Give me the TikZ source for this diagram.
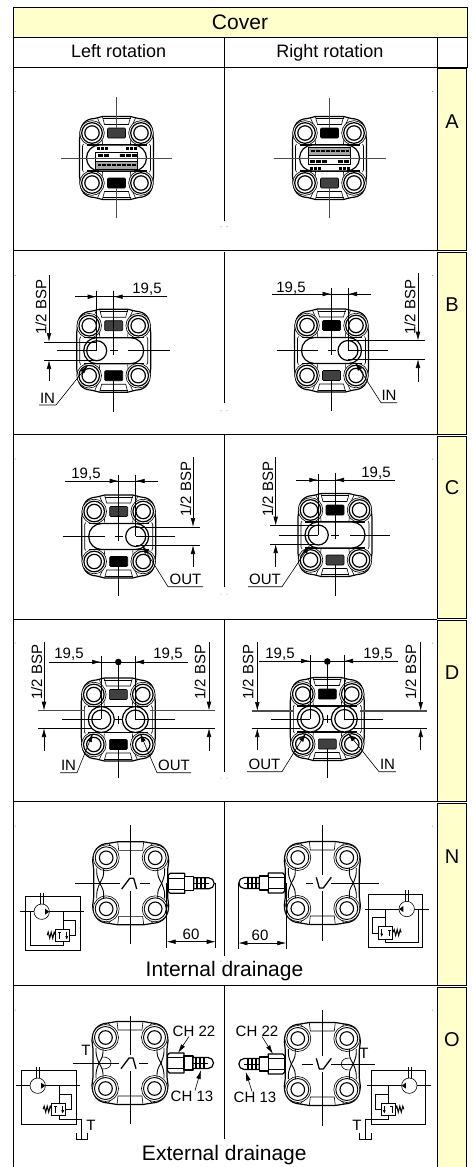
\documentclass[tikz,border=0pt]{standalone}
\usepackage{fontspec}
\setmainfont{Liberation Sans}
\usetikzlibrary{arrows.meta}
\definecolor{cellyellow}{HTML}{FFFFCC}
\tikzstyle{gridline} = [draw=black, line width=0.9pt]
\tikzstyle{bodyline} = [draw=black, line width=1.2pt, line join=round]
\tikzstyle{thinline} = [draw=black, line width=0.6pt]
\tikzstyle{dimline} = [draw=black, line width=0.6pt]
\tikzstyle{axisline} = [draw=black!70, line width=0.7pt]
\tikzset{tipped/.style={-{Latex[length=9pt,width=4.6pt]}},
    pointer/.style={dimline, -{Latex[length=9pt,width=4.6pt]}},
    dimtext/.style={font=\fontsize{15}{15}\selectfont, inner sep=0pt},
    headtext/.style={font=\fontsize{21}{21}\selectfont, inner sep=0pt},
    coltext/.style={font=\fontsize{18}{18}\selectfont, inner sep=0pt, anchor=base},
    tagtext/.style={font=\fontsize{20}{20}\selectfont, inner sep=0pt}}
% front of the cover, small scale: #1 top pad, #2 bottom pad
\newcommand\coverbody[2]{%
    \foreach \sx/\sy in {1/1,-1/1,1/-1,-1/-1}{
      \begin{scope}[xscale=\sx,yscale=\sy]
        \draw[bodyline] (0,-41.5) -- (14,-41.5) -- (22,-39.5) .. controls (32,-39) and (36.5,-33) .. (36.5,-22) -- (37,-18) -- (37,0);
        \draw[thinline] (0,-39.5) -- (14,-39.5);
        \draw[thinline] (14,-41) -- (12,-33.5) -- (0,-33.5);
        \draw[thinline] (19,-40) -- (15.5,-32) -- (14,-14);
        \draw[thinline] (33,-14) -- (34,-12) -- (34,0);
        \draw[thinline,fill=white] (24.5,-25) circle (12.3);
        \draw[bodyline,fill=white] (24.5,-25) circle (10.3);
        \draw[bodyline] (24.5,-25) circle (7.2);
        \draw[bodyline] (0,-13) -- (30,-13);
      \end{scope}}
    \draw[thinline,fill=#1,rounded corners=1pt] (-9,-30) rectangle (9,-20);
    \draw[thinline,fill=#2,rounded corners=1pt] (-9,20) rectangle (9,30);
}
% oblong recess of the cover
\newcommand\coverslot{\draw[bodyline,fill=white] (-17,-13) -- (17,-13) arc (-90:90:13) -- (-17,13) arc (90:270:13) -- cycle;}
% plate on the recess
\newcommand\logoplate{%
    \draw[thinline,fill=black!35] (-21,-11) rectangle (21,-3);
    \draw[line width=2.2pt,dash pattern=on 4pt off 1pt] (-19,-7) -- (19,-7);
    \draw[thinline] (-21,-3) rectangle (21,6);
    \draw[line width=3pt,dash pattern=on 5pt off 1pt] (-20,3) -- (-2,3) (8,3) -- (20,3);
    \draw[line width=3pt,dash pattern=on 3pt off 1pt] (-20,10) -- (-9,10) (9,10) -- (20,10);
}
% rear of the cover, large scale
\newcommand\coverlarge{%
    \foreach \sx/\sy in {1/1,-1/1,1/-1,-1/-1}{
      \begin{scope}[xscale=\sx,yscale=\sy]
        \draw[bodyline] (0,-41.5) -- (13,-41.5) -- (22,-40) .. controls (33,-39.5) and (38,-32) .. (38,-22) -- (37,-14) -- (37,0);
        \draw[thinline] (13,-41.5) -- (12,-33) -- (0,-33);
        \draw[thinline] (22,-40) -- (15.5,-32) -- (13,-23);
        \draw[thinline,fill=white] (24.5,-25.5) circle (13);
        \draw[draw=black,line width=0.9pt,fill=white] (24.5,-25.5) circle (11);
        \draw[draw=black,line width=1.1pt] (24.5,-25.5) circle (6.8);
        \draw[draw=black,line width=0.9pt] (34,-15) .. controls (34,-8) .. (31,0);
        \draw[draw=black,line width=0.9pt] (27,-15) .. controls (27,-7) .. (31,0);
      \end{scope}}
}
% hose fitting, pointing right
\newcommand\covernipple{%
    \draw[bodyline,fill=white] (37.5,-8) -- (39.5,-10) -- (54,-10) -- (54,10) -- (39.5,10) -- (37.5,8) -- cycle;
    \draw[thinline] (38,-5.5) -- (54,-5.5) (38,5.5) -- (54,5.5);
    \draw[bodyline,fill=white] (54,-7) rectangle (63,7);
    \draw[bodyline,fill=white] (63,-5.5) -- (78,-5.5) arc (-90:90:5.5) -- (63,5.5) -- cycle;
    \draw[line width=1.7pt] (66,-5.5) -- (66,5.5) (70,-5.5) -- (70,5.5) (74,-5.5) -- (74,5.5);
    \draw[thinline] (63,0) -- (78,0);
}
% rotation mark
\newcommand\rotmark{\draw[line width=1.3pt,line join=round] (-9,5.7) -- (-1,-5) -- (3,-5) -- (6,5.7);}
% hydraulic scheme, origin in the motor circle
\newcommand\circuitbase{%
    \draw[dimline] (-16,-15) rectangle (38.5,38.3);
    \draw[dimline] (-22,0) -- (42,0);
    \draw[dimline] (-1.5,-19) -- (-1.5,-7.5) (1.5,-19) -- (1.5,-7.5);
    \draw[dimline,fill=white] (0,0) circle (7.7);
    \fill (7.6,0) -- (3.4,-3) -- (3.4,3) -- cycle;
    \draw[dimline,fill=white] (14,17.3) rectangle (28,30);
    \draw[dimline] (21.5,0) -- (21.5,17.3);
    \draw[dimline] (21.5,8.5) -- (34,8.5) -- (34,24) -- (28,24);
    \draw[dimline,-{Latex[length=3.5pt,width=3pt]}] (25,20) -- (25,28);
    \draw[line width=1pt] (14,23.5) -- (12.5,20.5) -- (11,26.5) -- (9.5,20.5) -- (8,26.5) -- (6.5,20.5) -- (5.5,23.5);
    \draw[dimline] (17.5,21) -- (17.5,27) (16,21) -- (19,21);
}
\newcommand\circuitinternal{\circuitbase
    \draw[dimline] (-11.7,0) -- (-11.7,33.3) -- (21.5,33.3) -- (21.5,30);}
\newcommand\circuitexternal{\circuitbase
    \draw[dimline] (21.5,30) -- (21.5,33.3) -- (44,33.3) -- (44,53);
    \draw[dimline] (38.3,47.5) -- (38.3,53.3) -- (49.7,53.3) -- (49.7,47.5);}
% horizontal measure: y, start, first line, second line, end, foot of lines
\newcommand\hdim[6]{%
    \draw[dimline] (#2,#1) -- (#5,#1);
    \draw[dimline,tipped] (#2,#1) -- (#3,#1);
    \draw[dimline,tipped] (#5,#1) -- (#4,#1);
    \draw[dimline] (#3,#1-6) -- (#3,#6) (#4,#1-6) -- (#4,#6);
}
% length of the fitting: y, first line, second line, head of lines
\newcommand\lendim[4]{%
    \draw[dimline,{Latex[length=9pt,width=4.6pt]}-{Latex[length=9pt,width=4.6pt]}] (#2,#1) -- (#3,#1);
    \draw[dimline] (#2,#4) -- (#2,#1+6) (#3,#4) -- (#3,#1+6);
}
% vertical measure: x, start, first line, second line, end
\newcommand\vdim[5]{%
    \draw[dimline,tipped] (#1,#2) -- (#1,#3);
    \draw[dimline,tipped] (#1,#5) -- (#1,#4);
}
% port label on a leader: far end, elbow, y, port x, port y, name, text
\newcommand\portlabel[7]{%
    \draw[pointer] (#1,#3) -- node[dimtext,above=1.5pt] (#6) {#7} (#2,#3) -- (#4,#5);
}
\begin{document}
\begin{tikzpicture}[x=1pt,y=-1pt]
    \useasboundingbox (0,0) rectangle (472,1167);
    % table
    \fill[white] (0,0) rectangle (472,1167);
    \draw[gridline,fill=cellyellow] (13.5,7.5) rectangle (467,37);
    \node[headtext] (title) at (240,22) {Cover};
    \draw[gridline] (12.5,37) -- (467,37) -- (467,67) -- (12.5,67);
    \draw[gridline] (437,37) -- (437,67) (224.5,37) -- (224.5,67);
    \node[coltext] (leftcol) at (118.7,57.3) {Left rotation};
    \node[coltext] (rightcol) at (330,57.3) {Right rotation};
    \draw[gridline] (13.5,7.5) -- (13.5,1167);
    \foreach \tag/\ytop/\ybot/\ylab/\yend in {A/68.5/250/122/221,B/252.5/434/305/403,C/436/618.5/488/587,D/620/801/673/772,N/803/985/857/956,O/987/1170/1040/1139}{
      \draw[gridline,fill=cellyellow] (437.5,\ytop) rectangle (466.5,\ybot);
      \node[tagtext] (tag\tag) at (452,\ylab) {\tag};
      \draw[gridline] (13.5,\ybot+0.5) -- (437,\ybot+0.5);
      \draw[gridline] (224.5,\ytop-1) -- (224.5,\yend);
      \fill[black!50] (15.3,\ytop+23) circle (0.5) (432.5,\ytop+23) circle (0.5);
      \fill[black!50] (221,\ytop+158) circle (0.5) (227,\ytop+158) circle (0.5);
    }
    % row A
    \begin{scope}[shift={(116.5,158)}]
      \coverbody{black!75}{black}
      \coverslot
      \begin{scope}[rotate=180] \logoplate \end{scope}
      \draw[axisline] (0,-61) -- (0,-30) (0,30) -- (0,60) (-55.5,0) -- (55.5,0);
    \end{scope}
    \begin{scope}[shift={(329.5,158)}]
      \coverbody{black}{black!75}
      \coverslot
      \logoplate
      \draw[axisline] (0,-60) -- (0,-30) (0,30) -- (0,60) (-56,0) -- (56,0);
    \end{scope}
    % row B
    \begin{scope}[shift={(113.7,350.7)}]
      \coverbody{black!75}{black}
      \coverslot
      \draw[bodyline,fill=white] (-17,0) circle (10);
      \draw[dimline] (0,-60) -- (0,-30) (0,30) -- (0,61) (-4,0) -- (4,0) (0,-4) -- (0,4) (-56.7,0) -- (-17,0) (14,0) -- (56.3,0);
    \end{scope}
    \hdim{296.7}{75}{96.7}{113.7}{167}{350}
    \node[dimtext] (pitchBL) at (147,289) {19,5};
    \vdim{49}{275}{342}{360}{381}
    \draw[dimline] (44,342) -- (97,342) (44,360) -- (97,360);
    \node[dimtext,rotate=90] (bspBL) at (41,307) {1/2 BSP};
    \portlabel{39}{56}{405}{88}{365}{inBL}{IN}
    \begin{scope}[shift={(331.5,350.5)}]
      \coverbody{black}{black!75}
      \coverslot
      \draw[bodyline,fill=white] (16.5,0) circle (10);
      \draw[dimline] (0,-60) -- (0,-30) (0,30) -- (0,60) (-4,0) -- (4,0) (0,-4) -- (0,4) (-55,0) -- (-14,0) (16.5,0) -- (56.5,0);
    \end{scope}
    \hdim{294}{272}{331.5}{348}{370.7}{350}
    \node[dimtext] (pitchBR) at (291,288) {19,5};
    \vdim{418}{273}{340.7}{359}{381.7}
    \draw[dimline] (348,340.7) -- (425,340.7) (348,359) -- (425,359);
    \node[dimtext,rotate=90] (bspBR) at (410,307) {1/2 BSP};
    \portlabel{397}{381}{402.7}{355}{362}{inBR}{IN}
    % row C
    \begin{scope}[shift={(118.7,536.5)}]
      \coverbody{black!75}{black}
      \coverslot
      \draw[bodyline,fill=white] (17,0) circle (10);
      \draw[dimline] (0,-61) -- (0,-30) (0,30) -- (0,59) (-4,0) -- (4,0) (0,-4) -- (0,4) (-55.7,0) -- (-14,0) (17,0) -- (56.3,0);
    \end{scope}
    \hdim{481}{65}{118.7}{135.7}{158}{536}
    \node[dimtext] (pitchCL) at (86,474) {19,5};
    \vdim{193}{457}{527}{545}{567}
    \draw[dimline] (136,527) -- (200,527) (136,545) -- (200,545);
    \node[dimtext,rotate=90] (bspCL) at (185.7,489) {1/2 BSP};
    \portlabel{203}{168}{586.7}{142}{545}{outCL}{OUT}
    \begin{scope}[shift={(335,535)}]
      \coverbody{black}{black!75}
      \coverslot
      \draw[bodyline,fill=white] (-16.7,0) circle (10);
      \draw[dimline] (0,-62) -- (0,-30) (0,30) -- (0,60.5) (-4,0) -- (4,0) (0,-4) -- (0,4) (-56,0) -- (-16.7,0) (15,0) -- (55,0);
    \end{scope}
    \hdim{480}{296}{318.3}{335}{395}{535}
    \node[dimtext] (pitchCR) at (376,473) {19,5};
    \vdim{275.7}{457}{525.7}{544}{567}
    \draw[dimline] (270,525.7) -- (318,525.7) (270,544) -- (318,544);
    \node[dimtext,rotate=90] (bspCR) at (267.7,489) {1/2 BSP};
    \portlabel{248}{282}{586.7}{310}{545}{outCR}{OUT}
    % row D
    \begin{scope}[shift={(118.3,719.5)}]
      \coverbody{black!75}{black}
      \foreach \px in {-17,17}{
        \draw[bodyline,fill=white] (\px,0) circle (13);
        \draw[bodyline] (\px,0) circle (9.5);}
      \draw[dimline] (0,-60) -- (0,-30) (0,30) -- (0,58) (-4,0) -- (4,0) (0,-4) -- (0,4) (-56,0) -- (-17,0) (17,0) -- (57,0);
    \end{scope}
    \hdim{662}{49}{101}{135}{188}{719}
    \fill (118.3,662) circle (3.3);
    \node[dimtext] (pitchDLa) at (69,654) {19,5};
    \node[dimtext] (pitchDLb) at (168,654) {19,5};
    \vdim{44}{642}{710.7}{728}{751}
    \vdim{209}{642}{710.7}{728}{751}
    \draw[axisline,line width=1.1pt] (38,710.7) -- (85,710.7) (150,710.7) -- (215,710.7);
    \draw[dimline] (38,728) -- (92,728) (144,728) -- (215,728);
    \node[dimtext,rotate=90] (bspDLa) at (36.7,672) {1/2 BSP};
    \node[dimtext,rotate=90] (bspDLb) at (200,672) {1/2 BSP};
    \portlabel{60}{77}{772.7}{93}{733}{inDL}{IN}
    \portlabel{191}{157}{772.7}{140}{733}{outDL}{OUT}
    \begin{scope}[shift={(327.3,719)}]
      \coverbody{black}{black!75}
      \foreach \px in {-17,17}{
        \draw[bodyline,fill=white] (\px,0) circle (13);
        \draw[bodyline] (\px,0) circle (9.5);}
      \draw[dimline] (0,-60) -- (0,-30) (0,30) -- (0,59) (-4,0) -- (4,0) (0,-4) -- (0,4) (-56,0) -- (-17,0) (17,0) -- (56,0);
    \end{scope}
    \hdim{661}{259.3}{310}{344}{398}{719}
    \fill (327.3,661.5) circle (3.3);
    \node[dimtext] (pitchDRa) at (280,654) {19,5};
    \node[dimtext] (pitchDRb) at (378,654) {19,5};
    \vdim{257.3}{642}{711}{728}{750}
    \vdim{420.7}{642}{711}{728}{750}
    \draw[axisline,line width=1.1pt] (251.7,711) -- (294,711) (360,711) -- (426.7,711);
    \draw[dimline] (251.7,728) -- (300,728) (353,728) -- (426.7,728);
    \node[dimtext,rotate=90] (bspDRa) at (248,672) {1/2 BSP};
    \node[dimtext,rotate=90] (bspDRb) at (410.7,672) {1/2 BSP};
    \portlabel{247}{282}{771.7}{306}{733}{outDR}{OUT}
    \portlabel{396}{379}{771.7}{348}{733}{inDR}{IN}
    % row N
    \begin{scope}[shift={(130.7,883.3)}]
      \coverlarge \covernipple \rotmark
      \draw[dimline] (0,-58) -- (0,-8) (0,8) -- (0,61) (-55.7,0) -- (-11,0) (9,0) -- (19,0);
    \end{scope}
    \lendim{941.7}{166.7}{215.7}{883}
    \node[dimtext] (lenNL) at (191,934) {60};
    \begin{scope}[shift={(322.3,883)},xscale=-1]
      \covernipple
    \end{scope}
    \begin{scope}[shift={(322.3,883)}]
      \coverlarge
      \begin{scope}[rotate=180] \rotmark \end{scope}
      \draw[dimline] (0,-58) -- (0,-8) (0,8) -- (0,58) (-16.3,0) -- (-9,0) (9,0) -- (56.7,0);
    \end{scope}
    \lendim{943}{238.3}{286.3}{883}
    \node[dimtext] (lenNR) at (260,935) {60};
    \begin{scope}[shift={(41.7,911.7)}] \circuitinternal \end{scope}
    \begin{scope}[shift={(406.7,909)},xscale=-1] \circuitinternal \end{scope}
    \node[coltext,font=\fontsize{21}{21}\selectfont] (drainN) at (224.5,976.5) {Internal drainage};
    % row O
    \begin{scope}[shift={(130,1063)}]
      \coverlarge \covernipple \rotmark
      \draw[dimline] (-28,-6) .. controls (-16,-7) and (-16,7) .. (-28,6);
      \draw[dimline] (0,-47) -- (0,-8) (0,8) -- (0,61) (-57,0) -- (-11,0) (9,0) -- (18,0);
    \end{scope}
    \node[dimtext] (tOL) at (86,1050) {T};
    \node[dimtext] (chOLa) at (194,1031) {CH 22};
    \node[dimtext] (chOLb) at (192,1096) {CH 13};
    \draw[pointer] (chOLa.south) ++(-5,0) -- (178,1053);
    \draw[pointer] (chOLb.north) ++(3,0) -- (201,1070);
    \begin{scope}[shift={(322.3,1064)},xscale=-1]
      \covernipple
    \end{scope}
    \begin{scope}[shift={(322.3,1064)}]
      \coverlarge
      \begin{scope}[rotate=180] \rotmark \end{scope}
      \draw[dimline] (28,-6) .. controls (16,-7) and (16,7) .. (28,6);
      \draw[dimline] (0,-54) -- (0,-8) (0,8) -- (0,61.7) (-20.6,0) -- (-9,0) (9,0) -- (52.7,0);
    \end{scope}
    \node[dimtext] (tOR) at (364,1053) {T};
    \node[dimtext] (chORa) at (257,1031) {CH 22};
    \node[dimtext] (chORb) at (255,1097) {CH 13};
    \draw[pointer] (chORa.south) ++(5,0) -- (273,1054);
    \draw[pointer] (chORb.north) ++(-3,0) -- (245.7,1071.7);
    \begin{scope}[shift={(37.7,1085.7)}] \circuitexternal \end{scope}
    \begin{scope}[shift={(409.3,1085.7)},xscale=-1] \circuitexternal \end{scope}
    \node[dimtext] (tCL) at (91,1125) {T};
    \node[dimtext] (tCR) at (357,1125) {T};
    \node[coltext,font=\fontsize{21}{21}\selectfont] (drainO) at (224.3,1160) {External drainage};
\end{tikzpicture}
\end{document}
